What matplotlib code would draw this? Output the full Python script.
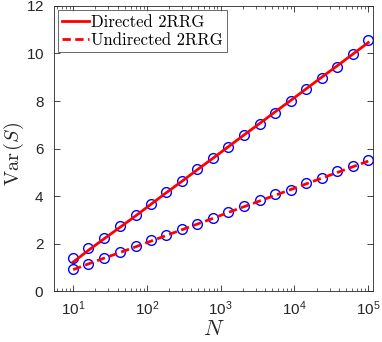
import numpy as np
import matplotlib
matplotlib.use("Agg")
import matplotlib.pyplot as plt

# system sizes (20 log-spaced points, 10 .. 1e5)
N = [10, 16, 26, 43, 70, 113, 183, 298, 483, 785,
     1274, 2069, 3360, 5456, 8859, 14384, 23357, 37927, 61585, 100000]

# simulation (blue circles)
var_dir_sim = [1.40, 1.81, 2.24, 2.73, 3.19, 3.68, 4.16, 4.62, 5.15, 5.62,
               6.08, 6.58, 7.04, 7.50, 8.01, 8.50, 8.98, 9.45, 9.96, 10.55]
var_und_sim = [0.93, 1.15, 1.39, 1.64, 1.89, 2.13, 2.36, 2.60, 2.84, 3.08,
               3.32, 3.56, 3.84, 4.07, 4.27, 4.53, 4.76, 5.06, 5.26, 5.53]

# theory (red lines)
var_dir_th = [1.22, 1.71, 2.19, 2.68, 3.16, 3.65, 4.14, 4.62, 5.11, 5.59,
              6.08, 6.57, 7.05, 7.54, 8.02, 8.51, 9.00, 9.48, 9.97, 10.46]
var_und_th = [0.90, 1.14, 1.38, 1.62, 1.86, 2.10, 2.34, 2.58, 2.82, 3.06,
              3.31, 3.55, 3.79, 4.03, 4.27, 4.51, 4.75, 4.99, 5.23, 5.47]

labels = ['Directed 2RRG', 'Undirected 2RRG']

plt.rcParams['font.family'] = ['Liberation Sans', 'DejaVu Sans']
plt.rcParams['axes.formatter.use_mathtext'] = True

fig = plt.figure(figsize=(3.82, 3.42), dpi=100)
ax = fig.add_axes([0.1414, 0.149, 0.835, 0.8335])

gray = '#262626'
ax.plot(N, var_dir_sim, 'o', mfc='none', mec='blue', ms=7, mew=1.0, zorder=2)
ax.plot(N, var_und_sim, 'o', mfc='none', mec='blue', ms=7, mew=1.0, zorder=2)
l1, = ax.plot(N, var_dir_th, '-', color='red', lw=2, zorder=3)
l2, = ax.plot(N, var_und_th, '--', color='red', lw=2, dashes=(3, 1.6), zorder=3)

ax.set_xscale('log')
ax.set_xlim(5.5, 1.16e5)
ax.set_ylim(0, 12)
ax.set_yticks([0, 2, 4, 6, 8, 10, 12])
ax.set_xticks([1e1, 1e2, 1e3, 1e4, 1e5])

ax.tick_params(which='both', direction='in', top=True, right=True,
               colors=gray, labelsize=11)
ax.tick_params(axis='x', pad=6)
ax.tick_params(axis='y', pad=7)
ax.tick_params(which='major', length=4, width=0.6)
ax.tick_params(which='minor', length=2, width=0.5)
for s in ax.spines.values():
    s.set_color(gray)
    s.set_linewidth(0.6)

ax.set_xlabel('$N$', fontsize=16, math_fontfamily='cm', color=gray, labelpad=1)
ax.set_ylabel(r'$\mathrm{Var}\,(S)$', fontsize=14.5, math_fontfamily='cm', color=gray)
ax.yaxis.set_label_coords(-0.088, 0.48)

leg = ax.legend([l1, l2], labels, loc='upper left', prop={'family': 'cmr10', 'size': 12},
                frameon=True, fancybox=False, handlelength=1.6, handletextpad=0.1,
                borderpad=0.25, labelspacing=0.2, borderaxespad=0.25)
leg.get_frame().set_edgecolor(gray)
leg.get_frame().set_linewidth(0.6)

fig.savefig('out.png', dpi=100)
